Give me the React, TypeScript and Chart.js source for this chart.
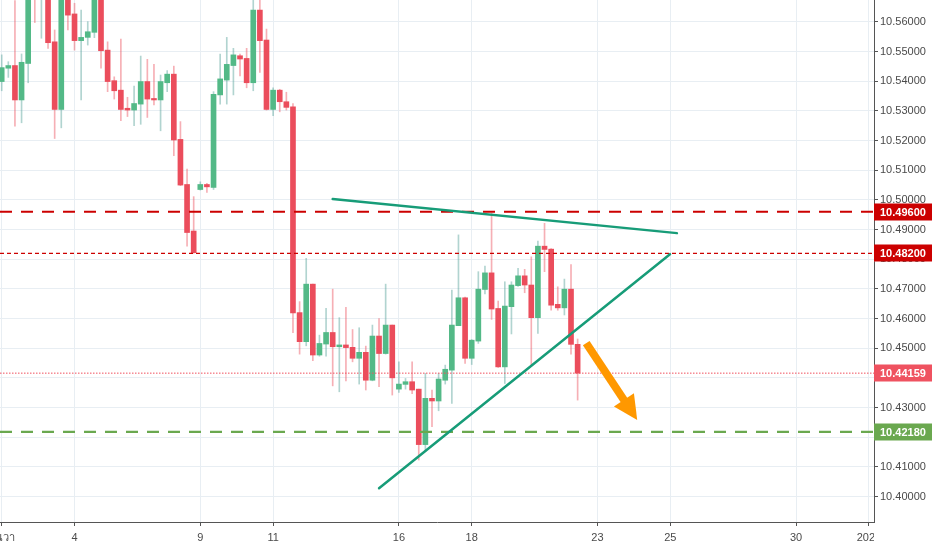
import React, { useEffect, useRef } from 'react';
import { Chart, registerables } from 'chart.js';

Chart.register(...registerables);

// ---- data (4H candles) ----
const opens = [
  10.5399, 10.5444, 10.5453, 10.5337, 10.5460, 10.5780, 10.5700, 10.5720, 10.5533, 10.5305,
  10.5720, 10.5627, 10.5537, 10.5548, 10.5565, 10.5700, 10.5505, 10.5402, 10.5370, 10.5309,
  10.5303, 10.5323, 10.5399, 10.5342, 10.5337, 10.5395, 10.5424, 10.5204, 10.5052, 10.4895,
  10.5035, 10.5052, 10.5042, 10.5354, 10.5404, 10.5453, 10.5486, 10.5477, 10.5395, 10.5640,
  10.5539, 10.5305, 10.5370, 10.5331, 10.5314, 10.4620, 10.4522, 10.4716, 10.4477, 10.4514,
  10.4553, 10.4505, 10.4511, 10.4503, 10.4466, 10.4486, 10.4392, 10.4541, 10.4482, 10.4578,
  10.4362, 10.4378, 10.4387, 10.4362, 10.4175, 10.4331, 10.4322, 10.4392, 10.4426, 10.4576,
  10.4670, 10.4466, 10.4524, 10.4698, 10.4754, 10.4634, 10.4437, 10.4640, 10.4711, 10.4744,
  10.4713, 10.4603, 10.4844, 10.4834, 10.4648, 10.4636, 10.4699, 10.4513,
];
const highs = [
  10.5489, 10.5466, 10.5672, 10.5492, 10.5760, 10.5800, 10.5790, 10.5740, 10.5573, 10.5740,
  10.5750, 10.5663, 10.5640, 10.5601, 10.5710, 10.5720, 10.5533, 10.5415, 10.5542, 10.5346,
  10.5384, 10.5485, 10.5474, 10.5457, 10.5421, 10.5436, 10.5451, 10.5264, 10.5104, 10.5011,
  10.5061, 10.5056, 10.5365, 10.5492, 10.5548, 10.5511, 10.5492, 10.5511, 10.5700, 10.5700,
  10.5576, 10.5378, 10.5373, 10.5363, 10.5325, 10.4657, 10.4803, 10.4716, 10.4544, 10.4634,
  10.4699, 10.4603, 10.4638, 10.4563, 10.4569, 10.4507, 10.4578, 10.4600, 10.4716, 10.4578,
  10.4454, 10.4398, 10.4454, 10.4362, 10.4415, 10.4359, 10.4415, 10.4443, 10.4696, 10.4882,
  10.4672, 10.4529, 10.4758, 10.4777, 10.4955, 10.4659, 10.4724, 10.4724, 10.4769, 10.4766,
  10.4808, 10.4861, 10.4921, 10.4836, 10.4707, 10.4733, 10.4782, 10.4531,
];
const lows = [
  10.5368, 10.5413, 10.5249, 10.5260, 10.5395, 10.5598, 10.5545, 10.5511, 10.5207, 10.5243,
  10.5573, 10.5505, 10.5337, 10.5522, 10.5547, 10.5444, 10.5365, 10.5340, 10.5267, 10.5281,
  10.5250, 10.5255, 10.5278, 10.5320, 10.5233, 10.5365, 10.5149, 10.5048, 10.4844, 10.4820,
  10.5033, 10.5025, 10.5035, 10.5323, 10.5323, 10.5354, 10.5418, 10.5378, 10.5368, 10.5430,
  10.5303, 10.5284, 10.5297, 10.5303, 10.4552, 10.4480, 10.4508, 10.4458, 10.4473, 10.4473,
  10.4373, 10.4353, 10.4390, 10.4454, 10.4379, 10.4359, 10.4390, 10.4370, 10.4480, 10.4342,
  10.4351, 10.4362, 10.4347, 10.4123, 10.4151, 10.4235, 10.4289, 10.4379, 10.4314, 10.4576,
  10.4449, 10.4445, 10.4516, 10.4683, 10.4597, 10.4435, 10.4381, 10.4548, 10.4708, 10.4687,
  10.4443, 10.4550, 10.4758, 10.4628, 10.4628, 10.4612, 10.4480, 10.4325,
];
const closes = [
  10.5446, 10.5453, 10.5337, 10.5464, 10.5720, 10.5700, 10.5760, 10.5530, 10.5305, 10.5710,
  10.5623, 10.5537, 10.5548, 10.5567, 10.5690, 10.5503, 10.5399, 10.5368, 10.5305, 10.5303,
  10.5325, 10.5399, 10.5340, 10.5337, 10.5399, 10.5424, 10.5202, 10.5050, 10.4890, 10.4822,
  10.5052, 10.5044, 10.5356, 10.5408, 10.5457, 10.5489, 10.5475, 10.5395, 10.5640, 10.5537,
  10.5305, 10.5370, 10.5331, 10.5312, 10.4619, 10.4522, 10.4716, 10.4477, 10.4516, 10.4553,
  10.4505, 10.4511, 10.4502, 10.4466, 10.4486, 10.4392, 10.4541, 10.4482, 10.4578, 10.4400,
  10.4379, 10.4387, 10.4359, 10.4175, 10.4331, 10.4322, 10.4396, 10.4429, 10.4578, 10.4670,
  10.4466, 10.4527, 10.4699, 10.4754, 10.4632, 10.4437, 10.4642, 10.4713, 10.4744, 10.4713,
  10.4603, 10.4844, 10.4833, 10.4645, 10.4636, 10.4699, 10.4513, 10.44159,
];

// time axis (candle index positions) and labels
const timeTickIndex = [0, 11, 30, 41, 60, 71, 90, 101, 120, 131];
const timeTickLabels = ['ธันวา', '4', '9', '11', '16', '18', '23', '25', '30', '2021'];
const indexMin = -0.257;
const indexMax = 131.77;

// price axis
const priceTicks = [10.40, 10.41, 10.42, 10.43, 10.44, 10.45, 10.46, 10.47, 10.48, 10.49, 10.50, 10.51, 10.52, 10.53, 10.54, 10.55, 10.56];
const priceMin = 10.3914;
const priceMax = 10.5674;

// horizontal levels
const levelPrices = [10.496, 10.482, 10.44159, 10.4218];
const levelLabels = ['10.49600', '10.48200', '10.44159', '10.42180'];

// drawings (candle index, price)
const upperTrendX = [50.0, 102.0];
const upperTrendY = [10.5003, 10.4888];
const lowerTrendX = [57.0, 100.95];
const lowerTrendY = [10.4028, 10.4817];
const arrowX = [88.3, 96.0];
const arrowY = [10.4517, 10.4258];

// ---- styles ----
const UP = '#53b987';
const DOWN = '#eb4d5c';
const UP_WICK = 'rgba(83,160,150,0.45)';
const DOWN_WICK = 'rgba(235,77,92,0.45)';
const GRID = '#e8eef3';
const AXIS = '#555555';
const FONT = "'Liberation Sans', Arial, sans-serif";
const levelStyles = [
  { color: '#cc0000', width: 2.2, dash: [12, 9], box: '#cc0000' },
  { color: '#cc0000', width: 1.2, dash: [4, 3], box: '#cc0000' },
  { color: '#f0505e', width: 1, dash: [1.5, 1.5], box: '#ef5260' },
  { color: '#6aa84f', width: 2.2, dash: [12, 9], box: '#6aa84f' },
];

const overlayPlugin = {
  id: 'overlay',
  afterDatasetsDraw(chart: any) {
    const { ctx, chartArea, scales } = chart;
    const xs = scales.x;
    const ys = scales.y;
    ctx.save();
    ctx.beginPath();
    ctx.rect(chartArea.left, chartArea.top, chartArea.right - chartArea.left, chartArea.bottom - chartArea.top);
    ctx.clip();
    levelPrices.forEach((p, i) => {
      const st = levelStyles[i];
      const y = ys.getPixelForValue(p);
      ctx.beginPath();
      ctx.setLineDash(st.dash);
      ctx.lineWidth = st.width;
      ctx.strokeStyle = st.color;
      ctx.moveTo(chartArea.left, y);
      ctx.lineTo(chartArea.right, y);
      ctx.stroke();
    });
    ctx.setLineDash([]);
    const drawLine = (xa: number[], ya: number[]) => {
      ctx.beginPath();
      ctx.lineWidth = 2.5;
      ctx.strokeStyle = '#179c78';
      ctx.lineCap = 'round';
      ctx.moveTo(xs.getPixelForValue(xa[0]), ys.getPixelForValue(ya[0]));
      ctx.lineTo(xs.getPixelForValue(xa[1]), ys.getPixelForValue(ya[1]));
      ctx.stroke();
    };
    drawLine(upperTrendX, upperTrendY);
    drawLine(lowerTrendX, lowerTrendY);
    const x0 = xs.getPixelForValue(arrowX[0]);
    const y0 = ys.getPixelForValue(arrowY[0]);
    const x1 = xs.getPixelForValue(arrowX[1]);
    const y1 = ys.getPixelForValue(arrowY[1]);
    const dx = x1 - x0;
    const dy = y1 - y0;
    const len = Math.sqrt(dx * dx + dy * dy);
    const ux = dx / len;
    const uy = dy / len;
    const headLen = 24;
    const headHalf = 12;
    const bx = x1 - ux * headLen;
    const by = y1 - uy * headLen;
    ctx.beginPath();
    ctx.lineCap = 'butt';
    ctx.lineWidth = 8;
    ctx.strokeStyle = '#ff9800';
    ctx.moveTo(x0, y0);
    ctx.lineTo(bx + ux * 2, by + uy * 2);
    ctx.stroke();
    ctx.beginPath();
    ctx.fillStyle = '#ff9800';
    ctx.moveTo(x1, y1);
    ctx.lineTo(bx - uy * headHalf, by + ux * headHalf);
    ctx.lineTo(bx + uy * headHalf, by - ux * headHalf);
    ctx.closePath();
    ctx.fill();
    ctx.restore();
  },
  afterDraw(chart: any) {
    const { ctx, chartArea, scales } = chart;
    const xs = scales.x;
    const ys = scales.y;
    ctx.save();
    levelPrices.forEach((p, i) => {
      const st = levelStyles[i];
      const y = ys.getPixelForValue(p);
      ctx.fillStyle = st.box;
      ctx.fillRect(chartArea.right, Math.round(y) - 8.5, chart.width - chartArea.right, 17);
      ctx.fillStyle = '#ffffff';
      ctx.font = `bold 11px ${FONT}`;
      ctx.textAlign = 'left';
      ctx.textBaseline = 'middle';
      ctx.fillText(levelLabels[i], chartArea.right + 6, Math.round(y) + 0.5);
    });
    ctx.beginPath();
    ctx.rect(chartArea.left, chartArea.bottom, chartArea.right - chartArea.left, chart.height - chartArea.bottom);
    ctx.clip();
    ctx.fillStyle = '#4a4a4a';
    ctx.font = `11px ${FONT}`;
    ctx.textAlign = 'center';
    ctx.textBaseline = 'middle';
    timeTickIndex.forEach((v, i) => {
      ctx.fillText(timeTickLabels[i], xs.getPixelForValue(v), chartArea.bottom + 16);
    });
    ctx.restore();
  },
};

export default function App() {
  const ref = useRef<HTMLCanvasElement>(null);
  useEffect(() => {
    document.body.style.margin = '0';
    const canvas = ref.current;
    if (!canvas) return;
    const bodies = opens.map((o, i) => ({ x: i, y: [o, closes[i]] }));
    const wicks = lows.map((l, i) => ({ x: i, y: [l, highs[i]] }));
    const bodyColors = opens.map((o, i) => (closes[i] >= o ? UP : DOWN));
    const wickColors = opens.map((o, i) => (closes[i] >= o ? UP_WICK : DOWN_WICK));
    const chart = new Chart(canvas, {
      type: 'bar',
      data: {
        datasets: [
          {
            data: bodies as any,
            backgroundColor: bodyColors,
            borderWidth: 0,
            barThickness: 5,
            grouped: false,
            order: 0,
          } as any,
          {
            data: wicks as any,
            backgroundColor: wickColors,
            borderWidth: 0,
            barThickness: 1,
            grouped: false,
            order: 1,
          } as any,
        ],
      },
      options: {
        animation: false,
        responsive: false,
        layout: { padding: 0 },
        plugins: { legend: { display: false }, tooltip: { enabled: false } },
        scales: {
          x: {
            type: 'linear',
            min: indexMin,
            max: indexMax,
            offset: false,
            grid: { color: GRID, offset: false, tickLength: 4, tickColor: AXIS },
            border: { color: AXIS },
            ticks: { display: false },
            afterBuildTicks: (s: any) => {
              s.ticks = timeTickIndex.map((v) => ({ value: v }));
            },
            afterFit: (s: any) => {
              s.height = 28;
              s.paddingLeft = 0;
              s.paddingRight = 0;
            },
          },
          y: {
            type: 'linear',
            position: 'right',
            min: priceMin,
            max: priceMax,
            grid: { color: GRID, tickLength: 4, tickColor: AXIS },
            border: { color: AXIS },
            ticks: {
              padding: 2,
              color: '#4a4a4a',
              font: { family: FONT, size: 11 },
              callback: (v: any) => Number(v).toFixed(5),
            },
            afterBuildTicks: (s: any) => {
              s.ticks = priceTicks.map((v) => ({ value: v }));
            },
            afterFit: (s: any) => {
              s.width = 58;
              s.paddingTop = 0;
              s.paddingBottom = 0;
            },
          },
        },
      } as any,
      plugins: [overlayPlugin],
    });
    return () => chart.destroy();
  }, []);
  return (
    <div style={{ width: 932, height: 550, background: '#ffffff' }}>
      <canvas ref={ref} width={932} height={550} style={{ display: 'block' }} />
    </div>
  );
}
